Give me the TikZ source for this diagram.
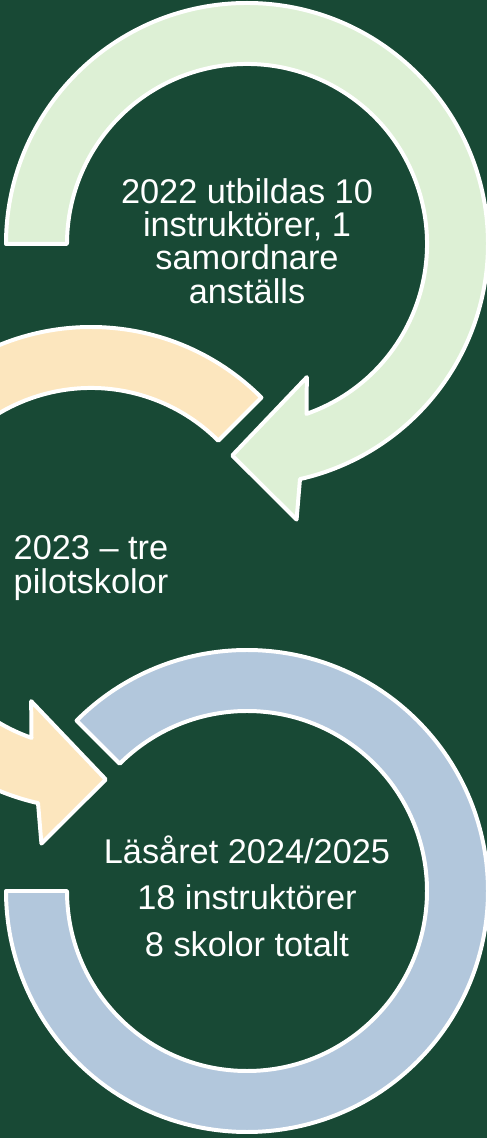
\documentclass[tikz,border=0pt]{standalone}
\usepackage{fontspec}
\setmainfont{Liberation Sans}
\usetikzlibrary{positioning}

\definecolor{slidegreen}{RGB}{24,73,53}
\definecolor{ringgreen}{RGB}{221,240,213}
\definecolor{ringorange}{RGB}{252,230,190}
\definecolor{ringblue}{RGB}{178,199,220}

\begin{document}
\begin{tikzpicture}[x=0.03cm, y=0.03cm, line join=round,
    arrow ring/.style={draw=white, line width=3.4pt},
    ring label/.style={text=white, align=center, font=\fontsize{29.3}{28.5}\selectfont}]
        \useasboundingbox (0,0) rectangle (487,1138);
        \clip (0,0) rectangle (487,1138);
        \fill[slidegreen] (0,0) rectangle (487,1138);
        \foreach \n/\x/\y in {1/247/894, 2/91/570, 3/247/247}   %ring centres
          \coordinate (ring-\n) at (\x,\y);
        % first step, arrow turning clockwise
        \filldraw[arrow ring, fill=ringgreen] ([shift={(180:241)}]ring-1)
            arc[start angle=180, end angle=-77.3, radius=241]
            -- ([shift={(-79.8:280)}]ring-1) -- ([shift={(-94:212)}]ring-1)
            -- ([shift={(-65.8:146)}]ring-1) -- ([shift={(-70.7:180)}]ring-1)
            arc[start angle=-70.7, end angle=180, radius=180] -- cycle;
        % second step, mirrored
        \filldraw[arrow ring, fill=ringorange] ([shift={(45:241)}]ring-2)
            arc[start angle=45, end angle=257.3, radius=241]
            -- ([shift={(259.8:280)}]ring-2) -- ([shift={(274:212)}]ring-2)
            -- ([shift={(245.8:146)}]ring-2) -- ([shift={(250.7:180)}]ring-2)
            arc[start angle=250.7, end angle=45, radius=180] -- cycle;
        % last step, no head
        \filldraw[arrow ring, fill=ringblue] ([shift={(135:241)}]ring-3)
            arc[start angle=135, end angle=-180, radius=241]
            -- ([shift={(180:180)}]ring-3)
            arc[start angle=-180, end angle=135, radius=180] -- cycle;
        \node[ring label] (text-1) at (247,897) {2022 utbildas 10\\instruktörer, 1\\samordnare\\anställs};
        \node[ring label] (text-2) at (91,570) {2023 – tre\\pilotskolor};
        \node[ring label, font=\fontsize{29.3}{39.7}\selectfont] (text-3) at (247,242)
          {Läsåret 2024/2025\\18 instruktörer\\8 skolor totalt};
\end{tikzpicture}
\end{document}
